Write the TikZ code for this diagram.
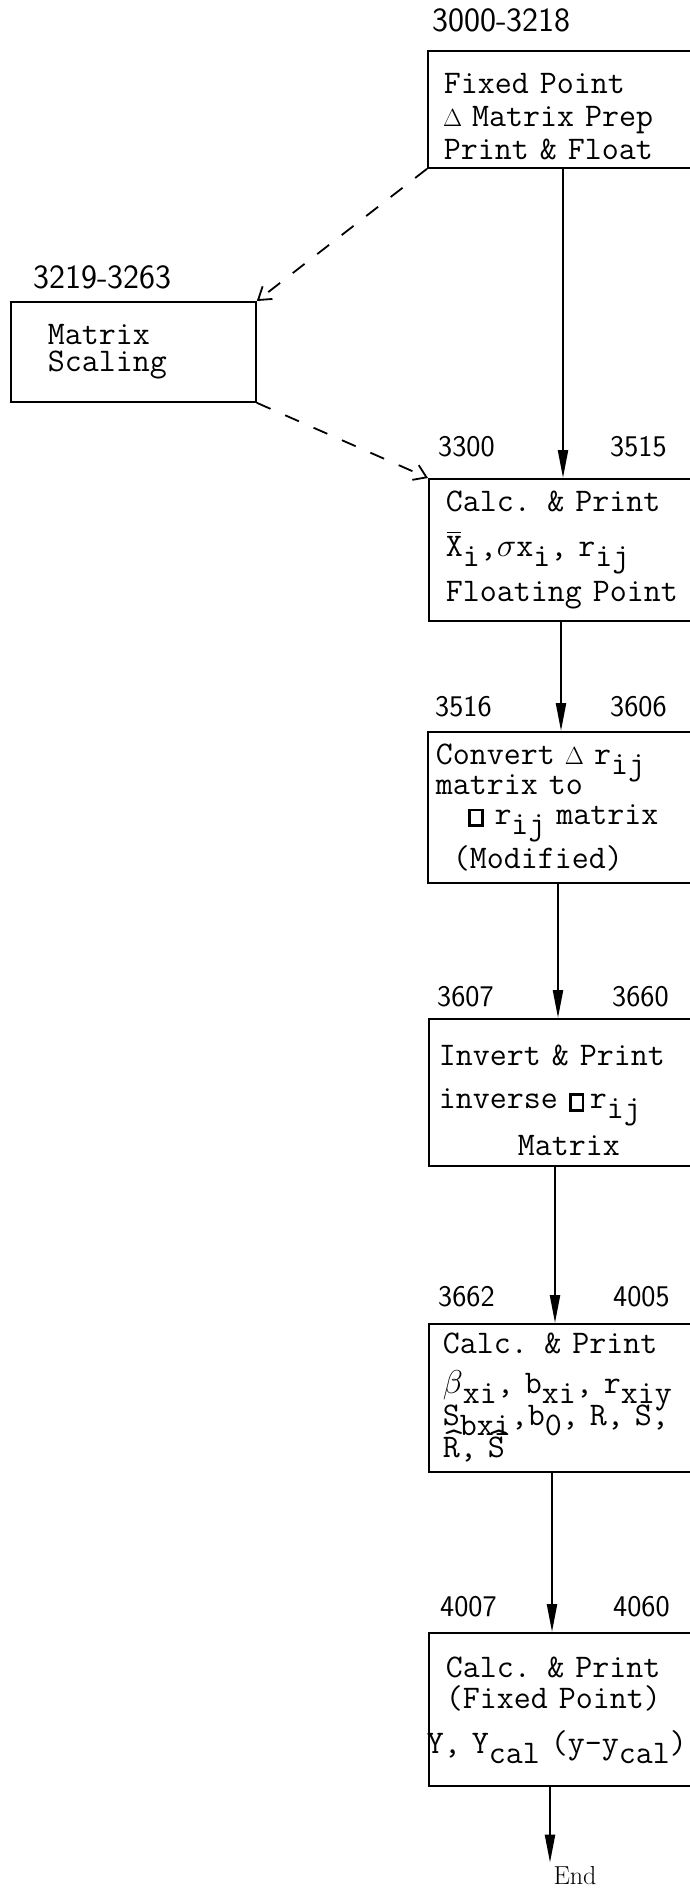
\RequirePackage{fix-cm}
\documentclass[tikz,border=0pt]{standalone}
\usepackage{graphicx}
\usetikzlibrary{arrows.meta,positioning}
\newcommand{\lo}[1]{\raisebox{-10pt}[0pt][0pt]{#1}}
\newcommand{\sqbox}{{\setlength{\fboxsep}{0pt}\setlength{\fboxrule}{2.8pt}\fbox{\rule{0pt}{13pt}\hspace{10pt}}}}
\newcommand{\dlt}{\makebox[0.525em]{\scalebox{0.75}{$\Delta$}}}
\newcommand{\dn}[1]{\rule{0pt}{#1}}
\newcommand{\barx}[1]{\leavevmode\rlap{\hspace{1pt}\rule[23pt]{14pt}{1.6pt}}#1}
\newcommand{\hatx}[1]{\leavevmode\rlap{\raisebox{7pt}[0pt][0pt]{\scalebox{1.3}[1]{\textasciicircum}}}#1}

\begin{document}
\begin{tikzpicture}[
  x=1pt,y=-1pt,
  box/.style={draw,line width=1.8pt,anchor=north west,align=left,inner ysep=0pt,
    font={\ttfamily\fontsize{33}{33}\selectfont\lineskiplimit=-40pt}},
  num/.style={anchor=west,inner sep=0pt,font=\sffamily\fontsize{30}{30}\selectfont},
  stmtrange/.style={num,font=\sffamily\fontsize{34}{34}\selectfont},
  flow/.style={-{Triangle[length=28pt,width=10pt]},line width=2.2pt},
  dashflow/.style={-{Straight Barb[length=12pt,width=16pt]},line width=1.8pt,dash pattern=on 15pt off 16pt}
]
  \path[use as bounding box,fill=white] (0,0) rectangle (690,1888);
  \clip (0,0) rectangle (690,1888);

  \node[box,inner xsep=16pt,text width=268pt,minimum height=117pt] (fixed) at (427,50)
    {\dn{34pt}Fixed Point\\\dlt{} Matrix Prep\\Print \& Float};
  \node[box,inner xsep=37pt,text width=171pt,minimum height=100pt] (scale) at (10,301)
    {Matrix\\[-6pt]Scaling};
  \node[box,inner xsep=17pt,text width=266pt,minimum height=142pt] (calc) at (428,478)
    {Calc. \& Print\\[12pt]\barx{X}\lo{i},$\sigma$x\lo{i}, r\lo{ij}\\[12pt]Floating Point};
  \node[box,inner xsep=8pt,text width=284pt,minimum height=151pt] (conv) at (427,731)
    {Convert \dlt{} r\lo{ij}\\[-3pt]matrix to\\[-3pt]\hspace*{32pt}\sqbox{} r\lo{ij} matrix\\[11pt]\hspace*{17pt}(Modified)};
  \node[box,inner xsep=10pt,text width=280pt,minimum height=147pt] (inv) at (428,1018)
    {\dn{37pt}Invert \& Print\\[10pt]inverse \sqbox\,r\lo{ij}\\[14pt]\hspace*{79pt}Matrix};
  \node[box,inner xsep=14pt,text width=272pt,minimum height=148pt] (beta) at (428,1323)
    {Calc. \& Print\\[7pt]$\beta$\lo{xi}, b\lo{xi}, r\lo{xiy}\\[-1pt]S\lo{bxi},b\lo{0}, R, S,\\[-1pt]\hatx{R}, \hatx{S}};
  \node[box,inner xsep=17pt,text width=266pt,minimum height=153pt] (ycal) at (428,1632)
    {Calc. \& Print\\[-2pt](Fixed Point)\\[12pt]\hspace*{-19pt}Y, Y\lo{cal} (y-y\lo{cal})};
  \node[inner ysep=4pt,font=\rmfamily\fontsize{26}{26}\selectfont] (end) at (575,1876) {End};

  % statement numbers
  \node[stmtrange] (n3000) at ([xshift=5pt,yshift=30pt]fixed.north west) {3000-3218};
  \node[stmtrange] (n3219) at ([xshift=23pt,yshift=24pt]scale.north west) {3219-3263};
  \node[num] (n3300) at ([xshift=10pt,yshift=31pt]calc.north west) {3300};
  \node[num] (n3515) at ([xshift=182pt,yshift=31pt]calc.north west) {3515};
  \node[num] (n3516) at ([xshift=8pt,yshift=24pt]conv.north west) {3516};
  \node[num] (n3606) at ([xshift=183pt,yshift=24pt]conv.north west) {3606};
  \node[num] (n3607) at ([xshift=9pt,yshift=21pt]inv.north west) {3607};
  \node[num] (n3660) at ([xshift=184pt,yshift=21pt]inv.north west) {3660};
  \node[num] (n3662) at ([xshift=10pt,yshift=26pt]beta.north west) {3662};
  \node[num] (n4005) at ([xshift=185pt,yshift=26pt]beta.north west) {4005};
  \node[num] (n4007) at ([xshift=12pt,yshift=25pt]ycal.north west) {4007};
  \node[num] (n4060) at ([xshift=185pt,yshift=25pt]ycal.north west) {4060};

  \draw[dashflow] (fixed.south west)--(scale.north east);
  \draw[dashflow] (scale.south east)--(calc.north west);
  \draw[flow] ([xshift=136pt]fixed.south west)--([xshift=135pt]calc.north west);
  \draw[flow] ([xshift=133pt]calc.south west)--([xshift=134pt]conv.north west);
  \draw[flow] ([xshift=131pt]conv.south west)--([xshift=130pt]inv.north west);
  \draw[flow] ([xshift=127pt]inv.south west)--([xshift=127pt]beta.north west);
  \draw[flow] ([xshift=124pt]beta.south west)--([xshift=124pt]ycal.north west);
  \draw[flow] ([xshift=122pt]ycal.south west)--([xshift=122pt]ycal.south west |- end.north);
\end{tikzpicture}
\end{document}
